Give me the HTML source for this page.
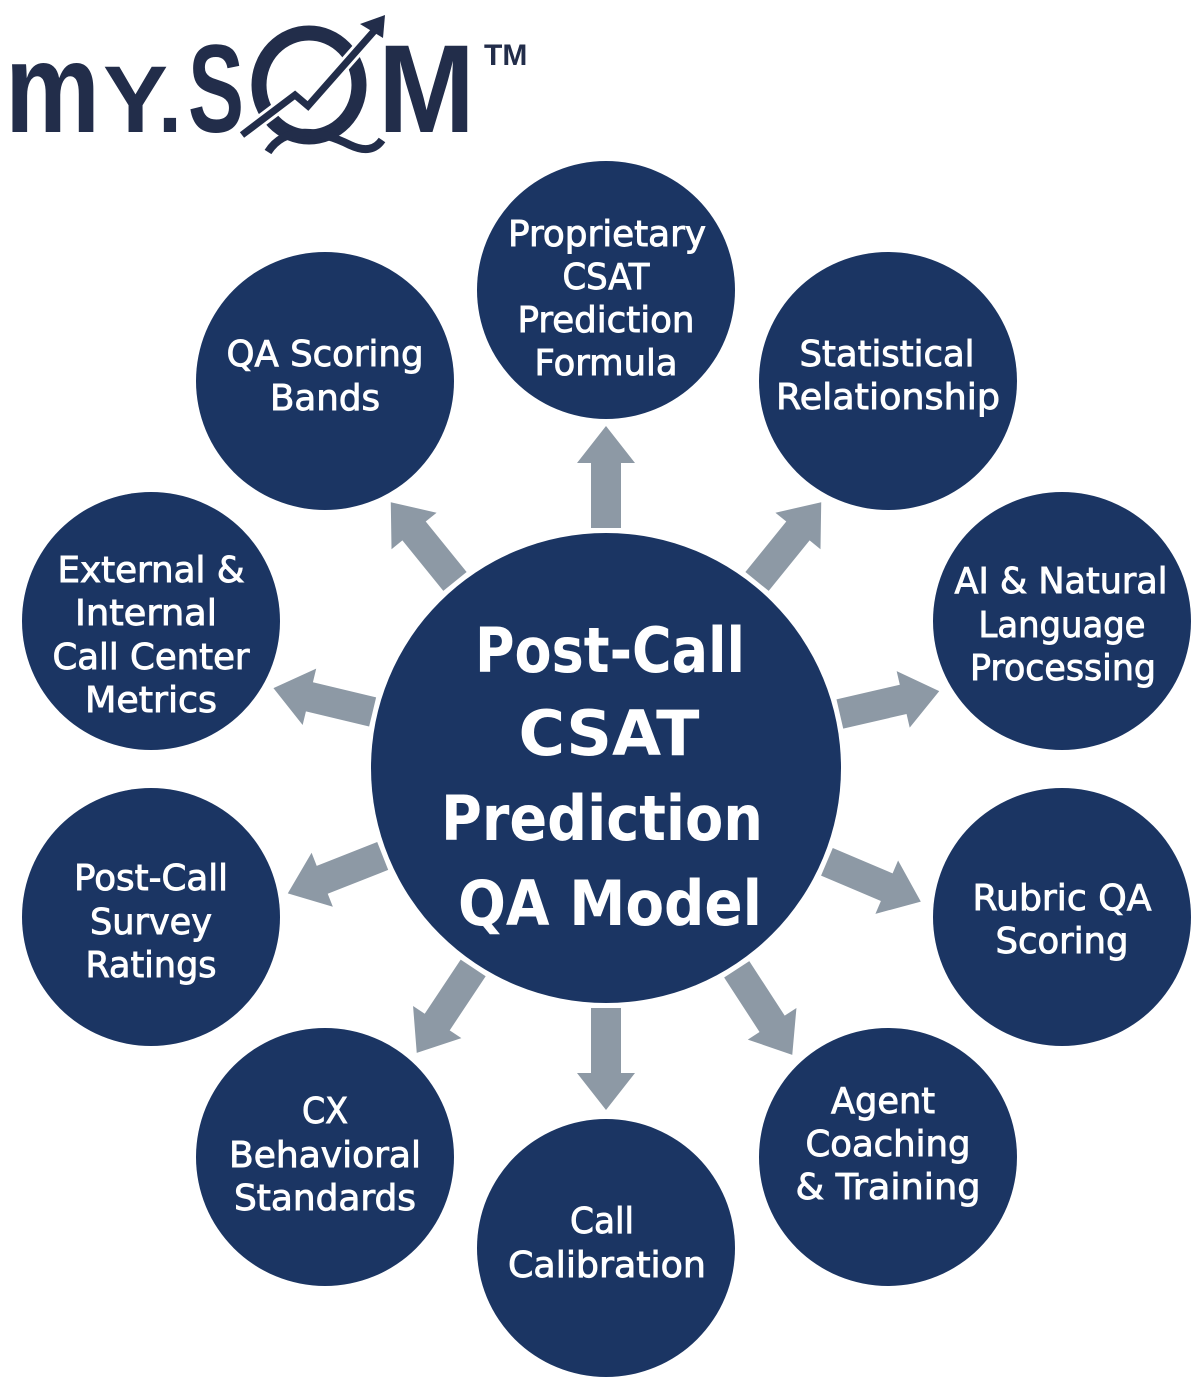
<!DOCTYPE html>
<html><head><meta charset="utf-8"><style>
html,body{margin:0;padding:0;background:#fff;}
svg{display:block;}
.o{font-family:"DejaVu Sans","Liberation Sans",sans-serif;font-size:36px;fill:#fff;stroke:#fff;stroke-width:0.9px;text-anchor:middle;}
.c{font-family:"DejaVu Sans","Liberation Sans",sans-serif;font-weight:bold;font-size:62px;fill:#fff;text-anchor:middle;}
.lg{font-family:"Liberation Sans",sans-serif;font-weight:bold;fill:#222d4a;}
</style></head><body>
<svg width="1200" height="1393" viewBox="0 0 1200 1393" xmlns="http://www.w3.org/2000/svg">
<defs>
<polygon id="ar" points="240,-15 305,-15 305,-29 342,0 305,29 305,15 240,15" fill="#8d99a5"/>
</defs>
<!-- logo -->
<text class="lg" x="5" y="132" font-size="128" textLength="95" lengthAdjust="spacingAndGlyphs">m</text>
<text class="lg" x="103" y="132" font-size="95" textLength="65" lengthAdjust="spacingAndGlyphs">Y</text>
<text class="lg" x="158" y="132" font-size="95" textLength="24" lengthAdjust="spacingAndGlyphs">.</text>
<text class="lg" x="188" y="132" font-size="125" textLength="56" lengthAdjust="spacingAndGlyphs">S</text>
<ellipse cx="309" cy="85" rx="50" ry="52" fill="none" stroke="#222d4a" stroke-width="15"/>
<path d="M268,152 C285,125 320,130 350,145 C365,152 375,150 382,140" fill="none" stroke="#222d4a" stroke-width="8"/>
<text class="lg" x="378" y="132" font-size="125" textLength="97" lengthAdjust="spacingAndGlyphs">M</text>
<polyline points="242,135 295,95 308,106 375,30" fill="none" stroke="#fff" stroke-width="13"/>
<polyline points="242,135 295,95 308,106 375,30" fill="none" stroke="#222d4a" stroke-width="7"/>
<polygon points="360,24 385,15 383,38" fill="#222d4a"/>
<text x="484" y="65" font-family="Liberation Sans,sans-serif" font-weight="bold" font-size="30" fill="#222d4a">TM</text>

<g transform="translate(606,768)">
<use href="#ar" transform="rotate(-90)"/>
<use href="#ar" transform="rotate(-51)"/>
<use href="#ar" transform="rotate(-13)"/>
<use href="#ar" transform="rotate(23)"/>
<use href="#ar" transform="rotate(57)"/>
<use href="#ar" transform="rotate(90)"/>
<use href="#ar" transform="rotate(123.6)"/>
<use href="#ar" transform="rotate(158.5)"/>
<use href="#ar" transform="rotate(193.5)"/>
<use href="#ar" transform="rotate(231)"/>
</g>

<g fill="#1b3563">
<circle cx="606" cy="768" r="235"/>
<circle cx="606" cy="290" r="129"/>
<circle cx="888" cy="381" r="129"/>
<circle cx="1062" cy="621" r="129"/>
<circle cx="1062" cy="917" r="129"/>
<circle cx="888" cy="1157" r="129"/>
<circle cx="606" cy="1248" r="129"/>
<circle cx="325" cy="1157" r="129"/>
<circle cx="151" cy="917" r="129"/>
<circle cx="151" cy="621" r="129"/>
<circle cx="325" cy="381" r="129"/>
</g>

<g class="o">
<text x="607" y="246" textLength="198" lengthAdjust="spacingAndGlyphs">Proprietary</text>
<text x="606" y="289" textLength="87" lengthAdjust="spacingAndGlyphs">CSAT</text>
<text x="606" y="332" textLength="177" lengthAdjust="spacingAndGlyphs">Prediction</text>
<text x="606" y="375" textLength="143" lengthAdjust="spacingAndGlyphs">Formula</text>

<text x="325" y="366" textLength="197" lengthAdjust="spacingAndGlyphs">QA Scoring</text>
<text x="325" y="410" textLength="110" lengthAdjust="spacingAndGlyphs">Bands</text>

<text x="887" y="366" textLength="175" lengthAdjust="spacingAndGlyphs">Statistical</text>
<text x="888" y="409" textLength="224" lengthAdjust="spacingAndGlyphs">Relationship</text>

<text x="151" y="582" textLength="187" lengthAdjust="spacingAndGlyphs">External &amp;</text>
<text x="146" y="625" textLength="142" lengthAdjust="spacingAndGlyphs">Internal</text>
<text x="151" y="669" textLength="197" lengthAdjust="spacingAndGlyphs">Call Center</text>
<text x="151" y="712" textLength="132" lengthAdjust="spacingAndGlyphs">Metrics</text>

<text x="1061" y="593" textLength="213" lengthAdjust="spacingAndGlyphs">AI &amp; Natural</text>
<text x="1062" y="637" textLength="167" lengthAdjust="spacingAndGlyphs">Language</text>
<text x="1063" y="680" textLength="186" lengthAdjust="spacingAndGlyphs">Processing</text>

<text x="151" y="890" textLength="154" lengthAdjust="spacingAndGlyphs">Post-Call</text>
<text x="151" y="934" textLength="122" lengthAdjust="spacingAndGlyphs">Survey</text>
<text x="151" y="977" textLength="131" lengthAdjust="spacingAndGlyphs">Ratings</text>

<text x="1062" y="910" textLength="179" lengthAdjust="spacingAndGlyphs">Rubric QA</text>
<text x="1062" y="953" textLength="133" lengthAdjust="spacingAndGlyphs">Scoring</text>

<text x="325" y="1123" textLength="46" lengthAdjust="spacingAndGlyphs">CX</text>
<text x="325" y="1167" textLength="192" lengthAdjust="spacingAndGlyphs">Behavioral</text>
<text x="325" y="1210" textLength="182" lengthAdjust="spacingAndGlyphs">Standards</text>

<text x="602" y="1233" textLength="64" lengthAdjust="spacingAndGlyphs">Call</text>
<text x="607" y="1277" textLength="198" lengthAdjust="spacingAndGlyphs">Calibration</text>

<text x="883" y="1113" textLength="104" lengthAdjust="spacingAndGlyphs">Agent</text>
<text x="888" y="1156" textLength="165" lengthAdjust="spacingAndGlyphs">Coaching</text>
<text x="888" y="1199" textLength="185" lengthAdjust="spacingAndGlyphs">&amp; Training</text>
</g>

<g class="c">
<text x="610" y="672" textLength="270" lengthAdjust="spacingAndGlyphs">Post-Call</text>
<text x="609" y="755" textLength="181" lengthAdjust="spacingAndGlyphs">CSAT</text>
<text x="602" y="840" textLength="322" lengthAdjust="spacingAndGlyphs">Prediction</text>
<text x="610" y="925" textLength="304" lengthAdjust="spacingAndGlyphs">QA Model</text>
</g>
</svg>
</body></html>
